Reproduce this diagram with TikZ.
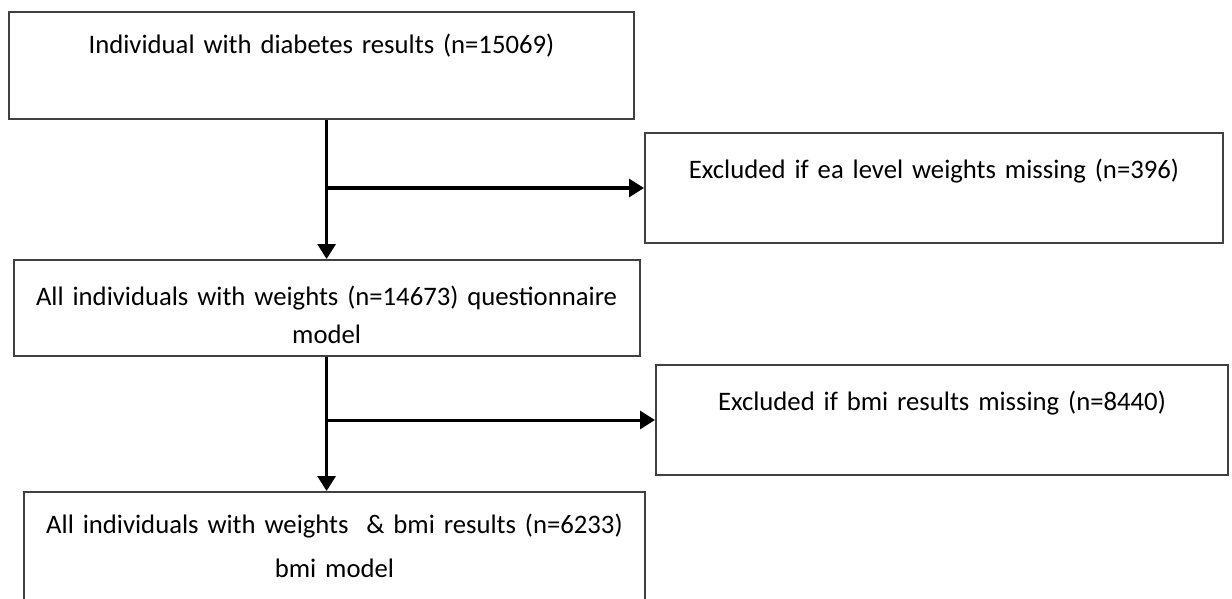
\documentclass[tikz,border=0pt]{standalone}
\usepackage{fontspec}
\setmainfont{Carlito}
\usetikzlibrary{arrows.meta}

\begin{document}
\begin{tikzpicture}[x=0.5pt,y=-0.5pt,
    box/.style={draw=black!75,line width=1pt,inner sep=0pt,anchor=north west,
        align=center,font=\fontsize{13.35}{19}\selectfont},
    flow/.style={line width=1.5pt,-{Triangle[length=7.5pt,width=9pt]}}]
    \useasboundingbox (0,0) rectangle (1232,599);
    %\draw[help lines,line width=0.1pt,blue] (0,0) grid[step=50] (1232,599);
	\node[box,text width=312.5pt,text height=21pt,text depth=32.5pt] (diab) at (8,11)
		{Individual with diabetes results (n=15069)};
	\node[box,text width=289pt,text height=22.5pt,text depth=32.5pt] (eaexcl) at (644,132)
		{Excluded if ea level weights missing (n=396)};
	\node[box,text width=313pt,text height=22.5pt,text depth=25.5pt] (weights) at (12.6,259)
		{All individuals with weights (n=14673) questionnaire\\model};
	\node[box,text width=286pt,text height=22.5pt,text depth=32.5pt] (bmiexcl) at (655,364)
		{Excluded if bmi results missing (n=8440)};
	\node[box,text width=310.5pt,text height=20.5pt,text depth=40pt,
		font=\fontsize{13.35}{22}\selectfont] (bmiall) at (23,491)
		{All individuals with weights \ \& bmi results (n=6233)\\bmi model};
	\draw[flow] (diab.south -| weights.north) -- (weights.north);
	\draw[flow] (eaexcl.west -| weights.north) -- (eaexcl.west);
	\draw[flow] (weights.south) -- (weights.south |- bmiall.north);
	\draw[flow] (bmiexcl.west -| weights.south) -- (bmiexcl.west);
\end{tikzpicture}
\end{document}
